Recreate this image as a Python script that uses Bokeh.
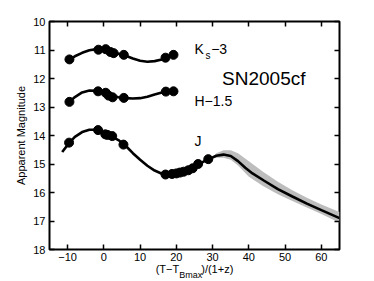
from bokeh.plotting import figure
from bokeh.models import (Range1d, LinearAxis, FixedTicker, Label, CustomJSTickFormatter)
from bokeh.embed import file_html
from bokeh.resources import INLINE

FONT = "Liberation Sans"

# ---- data ----
ks_x = [-9.5, -1.5, 0.5, 1.8, 2.7, 5.5, 17.0, 19.2]
ks_m = [11.33, 10.99, 10.97, 11.07, 11.11, 11.17, 11.27, 11.17]
ks_fit_x = [-9.5, -8, -6, -4, -2, 0, 2, 4, 6, 8, 10, 12, 14, 16, 18, 20]
ks_fit_m = [11.33, 11.22, 11.10, 11.01, 10.97, 10.98, 11.06, 11.13, 11.20, 11.30, 11.38, 11.41, 11.39, 11.33, 11.24, 11.13]

h_x = [-9.5, -1.6, 0.5, 1.3, 2.4, 5.5, 17.1, 19.2]
h_m = [12.82, 12.45, 12.50, 12.60, 12.66, 12.68, 12.46, 12.45]
h_fit_x = [-9.5, -8, -6, -4, -2, 0, 2, 4, 6, 8, 10, 12, 14, 16, 18, 20]
h_fit_m = [12.82, 12.65, 12.49, 12.42, 12.43, 12.50, 12.60, 12.66, 12.69, 12.70, 12.69, 12.64, 12.56, 12.49, 12.45, 12.44]

j_x = [-9.6, -1.6, 0.4, 1.0, 2.3, 5.4, 17.0, 18.8, 20.0, 21.0, 22.0, 23.3, 24.5, 26.0, 28.8]
j_m = [14.25, 13.81, 13.96, 13.98, 14.02, 14.32, 15.37, 15.35, 15.33, 15.30, 15.27, 15.22, 15.15, 15.00, 14.83]
j_fit_x = [-11.5, -9.5, -8, -6, -4, -2, 0, 2, 4, 6, 8, 10, 12, 14, 16, 18, 20, 22, 24, 26, 28, 29]
j_fit_m = [14.58, 14.25, 14.05, 13.88, 13.80, 13.80, 13.90, 14.02, 14.16, 14.36, 14.62, 14.85, 15.06, 15.23, 15.34, 15.39, 15.35, 15.29, 15.17, 15.02, 14.88, 14.83]

tmpl_x = [29, 31, 33, 35, 37, 39, 41, 44, 48, 52, 56, 60, 65]
tmpl_m = [14.83, 14.71, 14.67, 14.72, 14.90, 15.13, 15.33, 15.57, 15.88, 16.14, 16.39, 16.62, 16.90]

band_x = [30.5, 31, 33, 35, 37, 40, 44, 48, 52, 56, 60, 65]
band_lo = [14.70, 14.62, 14.52, 14.52, 14.62, 14.90, 15.28, 15.62, 15.92, 16.18, 16.42, 16.68]
band_hi = [14.80, 14.78, 14.78, 14.85, 15.05, 15.45, 15.78, 16.06, 16.30, 16.53, 16.75, 17.06]

x_ticks = [-10, 0, 10, 20, 30, 40, 50, 60]
y_ticks = [10, 11, 12, 13, 14, 15, 16, 17, 18]
x_title_main = "(T\u2212T\u2003\u2003)/(1+z)"
x_title_sub = "Bmax"

# ---- figure ----
p = figure(frame_width=290, frame_height=228, output_backend="svg", toolbar_location=None,
           x_range=Range1d(-15, 65), y_range=Range1d(18, 10),
           min_border_left=49, min_border_top=21, min_border_right=30, min_border_bottom=30,
           x_axis_location=None, y_axis_location=None)
p.grid.visible = False
p.outline_line_color = "black"
p.outline_line_width = 2
p.background_fill_color = "white"
p.border_fill_color = "white"

blank = CustomJSTickFormatter(code="return ''")


def style_axis(ax, ticks, labels=True):
    ax.ticker = FixedTicker(ticks=ticks)
    ax.axis_line_color = None
    ax.major_tick_in = 5
    ax.major_tick_out = 0
    ax.minor_tick_line_color = None
    ax.major_tick_line_width = 1.5
    ax.major_tick_line_color = "black"
    ax.major_label_text_font = FONT
    ax.major_label_text_color = "black"
    ax.major_label_text_font_size = "11px"
    ax.major_label_standoff = 3
    if not labels:
        ax.formatter = blank
        ax.major_label_standoff = 0


left = LinearAxis()
style_axis(left, y_ticks)
left.major_label_standoff = 4
left.axis_label = "Apparent Magnitude"
left.axis_label_text_font = FONT
left.axis_label_text_font_size = "11px"
left.axis_label_text_font_style = "normal"
left.axis_label_text_color = "black"
left.axis_label_standoff = 3
p.add_layout(left, "left")

bottom = LinearAxis()
style_axis(bottom, x_ticks)
bottom.major_label_overrides = {-10: "\u221210"}
bottom.axis_label = x_title_main
bottom.axis_label_text_font = FONT
bottom.axis_label_text_font_size = "11px"
bottom.axis_label_text_font_style = "normal"
bottom.axis_label_text_color = "black"
bottom.axis_label_standoff = -1
p.add_layout(bottom, "below")

# subscript of the x title, drawn as the single label of a second, tick-less axis
sub_axis = LinearAxis()
sub_axis.ticker = FixedTicker(ticks=[23.95])
sub_axis.formatter = CustomJSTickFormatter(code="return '%s'" % x_title_sub)
sub_axis.axis_line_color = None
sub_axis.major_tick_line_color = None
sub_axis.minor_tick_line_color = None
sub_axis.major_tick_in = 0
sub_axis.major_tick_out = 0
sub_axis.major_label_text_font = FONT
sub_axis.major_label_text_font_size = "9px"
sub_axis.major_label_text_color = "black"
sub_axis.major_label_standoff = -8
p.add_layout(sub_axis, "below")

top = LinearAxis()
style_axis(top, x_ticks, labels=False)
p.add_layout(top, "above")

right = LinearAxis()
style_axis(right, y_ticks, labels=False)
p.add_layout(right, "right")

# ---- glyphs ----
p.varea(x=band_x, y1=band_lo, y2=band_hi, fill_color="#bdbdbd", fill_alpha=1.0)
lw = 2.6
p.line(ks_fit_x, ks_fit_m, line_color="black", line_width=lw)
p.line(h_fit_x, h_fit_m, line_color="black", line_width=lw)
p.line(j_fit_x, j_fit_m, line_color="black", line_width=lw)
p.line(tmpl_x, tmpl_m, line_color="black", line_width=lw)
for xs, ms in ((ks_x, ks_m), (h_x, h_m), (j_x, j_m)):
    p.scatter(xs, ms, size=9, fill_color="black", line_color="black")


def lab(x, y, t, size):
    p.add_layout(Label(x=x, y=y, text=t, text_font=FONT, text_font_size=size,
                       text_color="black", text_baseline="alphabetic", text_align="left"))


lab(25.0, 10.96, "K", "14px")
lab(28.0, 11.20, "s", "10px")
lab(29.6, 10.96, "\u22123", "14px")
lab(32.6, 12.01, "SN2005cf", "19px")
lab(25.0, 12.80, "H\u22121.5", "14px")
lab(25.0, 14.18, "J", "14px")

open("out.html", "w").write(file_html(p, INLINE))
